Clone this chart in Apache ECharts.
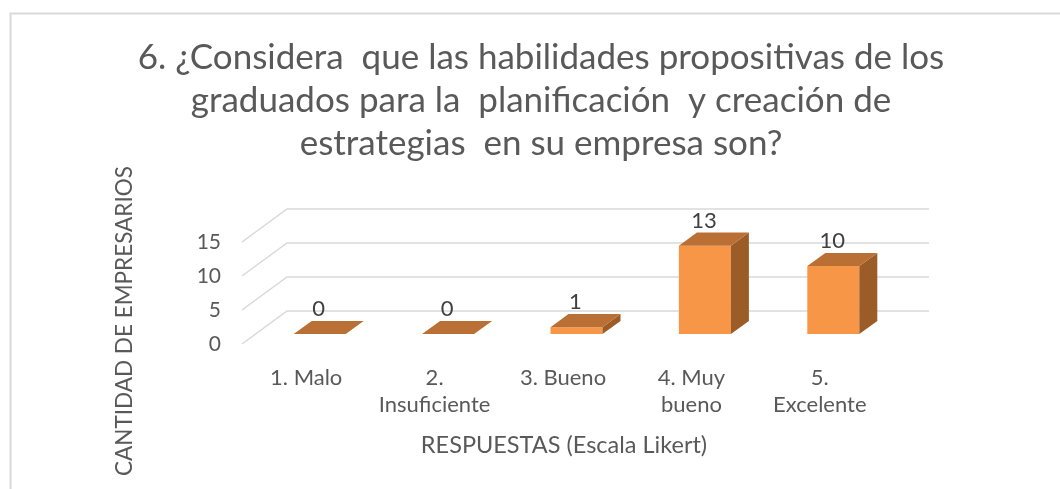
<!DOCTYPE html>
<html>
<head>
<meta charset="utf-8">
<script src="https://cdn.jsdelivr.net/npm/echarts@6/dist/echarts.min.js"></script>
<style>
  html, body { margin: 0; padding: 0; background: #fff; }
  #chart { width: 1060px; height: 489px; }
</style>
</head>
<body>
<div id="chart"></div>
<script>
// datos del grafico
const categories = ["1. Malo", "2. Insuficiente", "3. Bueno", "4. Muy bueno", "5. Excelente"];
const tickLabels = ["1. Malo", "2.\nInsuficiente", "3. Bueno", "4. Muy\nbueno", "5.\nExcelente"];
const values = [0, 0, 1, 13, 10];
const yTicks = [0, 5, 10, 15];

const titleText = "6. ¿Considera  que las habilidades propositivas de los\ngraduados para la  planificación  y creación de\nestrategias  en su empresa son?";

// falso 3D: desplazamiento del fondo respecto al plano frontal
const DEPTH = [45, -33];
const BAR_FRONT = 0.3;
const BAR_BACK = 0.7;
const FONT = "Lato, 'Open Sans', sans-serif";

const myChart = echarts.init(document.getElementById("chart"));

function renderGrid(params, api) {
  const cs = params.coordSys;
  const y = api.coord([0, api.value(1)])[1];
  return {
    type: "polyline",
    shape: {
      points: [
        [cs.x, y],
        [cs.x + DEPTH[0], y + DEPTH[1]],
        [cs.x + cs.width + DEPTH[0], y + DEPTH[1]],
      ],
    },
    style: { stroke: "#D9D9D9", lineWidth: 1.5, fill: null },
  };
}

function renderBar(params, api) {
  const cat = api.value(0);
  const v = api.value(1);
  const base = api.coord([cat, 0]);
  const top = api.coord([cat, v]);
  const bw = api.size([1, 0])[0] * 0.405;
  const fx = DEPTH[0] * BAR_FRONT, fy = DEPTH[1] * BAR_FRONT;
  const ddx = DEPTH[0] * (BAR_BACK - BAR_FRONT);
  const ddy = DEPTH[1] * (BAR_BACK - BAR_FRONT);
  const x0 = base[0] - bw / 2 + fx;
  const x1 = x0 + bw;
  const yb = base[1] + fy;
  const yt = top[1] + fy;
  const children = [];
  if (v > 0) {
    children.push({
      type: "polygon",
      shape: { points: [[x0, yb], [x1, yb], [x1, yt], [x0, yt]] },
      style: { fill: "#F79646" },
    });
    children.push({
      type: "polygon",
      shape: { points: [[x1, yb], [x1 + ddx, yb + ddy], [x1 + ddx, yt + ddy], [x1, yt]] },
      style: { fill: "#9C5C28" },
    });
  }
  children.push({
    type: "polygon",
    shape: { points: [[x0, yt], [x1, yt], [x1 + ddx, yt + ddy], [x0 + ddx, yt + ddy]] },
    style: { fill: "#BA7034" },
  });
  children.push({
    type: "text",
    style: {
      x: x0 + bw / 2 - 1,
      y: yt + ddy - 12,
      text: String(v),
      fill: "#404040",
      font: "22px " + FONT,
      align: "center",
      verticalAlign: "middle",
    },
  });
  return { type: "group", children: children };
}

const option = {
  animation: false,
  backgroundColor: "#fff",
  grid: { left: 242, right: 176, top: 242, bottom: 145 },
  xAxis: {
    type: "category",
    data: categories,
    axisLine: { show: false },
    axisTick: { show: false },
    axisLabel: {
      color: "#595959",
      fontSize: 22,
      fontFamily: FONT,
      lineHeight: 27,
      margin: 20,
      interval: 0,
      formatter: (val, i) => tickLabels[i],
    },
  },
  yAxis: {
    type: "value",
    min: 0,
    max: 15,
    interval: 5,
    axisLine: { show: false },
    axisTick: { show: false },
    splitLine: { show: false },
    axisLabel: { color: "#595959", fontSize: 21, fontFamily: FONT, margin: 21 },
  },
  series: [
    {
      type: "custom",
      renderItem: renderGrid,
      data: yTicks.map((t) => [0, t]),
      clip: false,
      z: 1,
      silent: true,
    },
    {
      name: "Empresarios",
      type: "custom",
      renderItem: renderBar,
      data: values.map((v, i) => [i, v]),
      clip: false,
      z: 2,
    },
  ],
  graphic: [
    {
      type: "rect",
      shape: { x: 10.5, y: 13.5, width: 1200, height: 600 },
      style: { fill: null, stroke: "#D9D9D9", lineWidth: 2 },
      silent: true,
    },
    {
      type: "text",
      x: 541,
      y: 36,
      style: {
        text: titleText,
        fill: "#595959",
        font: "35px " + FONT,
        lineHeight: 43,
        align: "center",
      },
    },
    {
      type: "text",
      x: 125,
      y: 321,
      rotation: Math.PI / 2,
      style: {
        text: "CANTIDAD DE EMPRESARIOS",
        fill: "#595959",
        font: "22.5px " + FONT,
        align: "center",
        verticalAlign: "middle",
      },
    },
    {
      type: "text",
      x: 564,
      y: 445,
      style: {
        text: "RESPUESTAS (Escala Likert)",
        fill: "#595959",
        font: "23.5px " + FONT,
        align: "center",
        verticalAlign: "middle",
      },
    },
  ],
};

myChart.setOption(option);
window.addEventListener("resize", () => myChart.resize());
</script>
</body>
</html>
